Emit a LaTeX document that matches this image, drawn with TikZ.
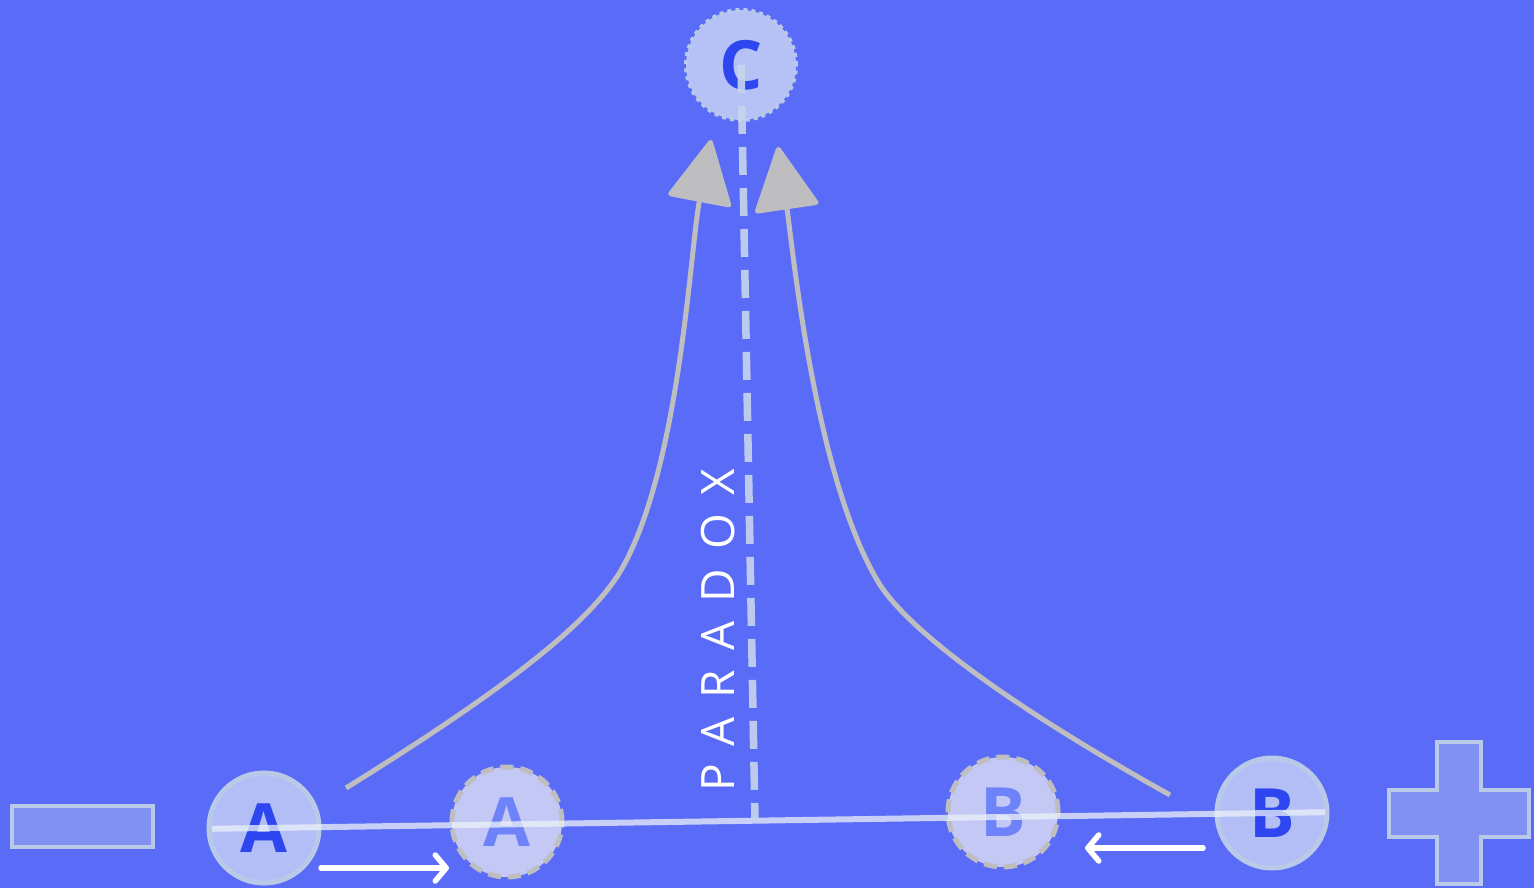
\documentclass[tikz,border=0pt]{standalone}
\usepackage{fontspec}
\setmainfont{Open Sans}
\usepackage{xcolor}
\usetikzlibrary{arrows.meta,positioning}

\definecolor{bgblue}{RGB}{90,108,247}
\definecolor{palefill}{RGB}{178,190,245}
\definecolor{ghostfill}{RGB}{196,200,245}
\definecolor{edgelight}{RGB}{185,202,232}
\definecolor{inkblue}{RGB}{45,70,240}
\definecolor{ghostink}{RGB}{110,130,250}
\definecolor{curvegray}{RGB}{190,190,192}
\definecolor{signfill}{RGB}{128,145,242}

\begin{document}
\begin{tikzpicture}[
    x=1pt, y=-1pt,
    realnode/.style={circle, draw=edgelight, fill=palefill, line width=5pt,
        minimum size=110pt, inner sep=0pt, text=inkblue,
        font=\fontsize{68}{68}\selectfont\bfseries\upshape},
    ghostnode/.style={realnode, fill=ghostfill, draw=curvegray, text=ghostink,
        dash pattern=on 13pt off 7pt},
    topnode/.style={realnode, fill=palefill!95!white, draw=edgelight,
        line width=4pt, dash pattern=on 4pt off 4pt},
    signbox/.style={draw=edgelight, fill=signfill, line width=3.5pt},
    axisline/.style={draw=white!75!edgelight, opacity=0.75, line width=6pt},
    bendline/.style={draw=curvegray, line width=5pt,
        -{Triangle[length=66pt, width=66pt, round]}},
    moveline/.style={draw=white, line width=5.5pt, line cap=round,
        -{Straight Barb[length=11pt, width=26pt, round]}}
]
% background and frame
\fill[bgblue] (0,0) rectangle (1534,888);
\useasboundingbox (0,0) rectangle (1534,888);

% minus and plus signs
\draw[signbox] (12,806) rectangle (153,847);
\draw[signbox] (1437,742) -- (1481,742) -- (1481,790) -- (1529,790) -- (1529,837)
    -- (1481,837) -- (1481,884) -- (1437,884) -- (1437,837) -- (1389,837)
    -- (1389,790) -- (1437,790) -- cycle;

% circles
\node[realnode]  (nodeA)  at (264,828) {A};
\node[ghostnode] (ghostA) at (507,822) {A};
\node[ghostnode] (ghostB) at (1003,812) {B};
\node[realnode]  (nodeB)  at (1272,813) {B};
\node[topnode]   (nodeC)  at (741,65) {C};

% base line and paradox link
\coordinate (meet) at (755,820);
\draw[axisline, shorten <=-52pt, shorten >=-53pt] (nodeA.center) -- (nodeB.center);
\draw[axisline, draw=edgelight!80!white, opacity=0.9, line width=7.5pt,
    dash pattern=on 28pt off 13pt] (nodeC.center) -- (meet);
\node[rotate=90, text=white, font=\fontsize{46}{46}\selectfont\addfontfeature{LetterSpace=42}]
    (paradox) at (718,630) {PARADOX};

% bending arrows towards C
\coordinate (leftfoot) at (346,788);
\coordinate (lefttip) at (711,140);
\coordinate (rightfoot) at (1170,795);
\coordinate (righttip) at (778,147);
\draw[bendline] (leftfoot) .. controls (520,680) and (590,620) .. (620,572)
    .. controls (680,470) and (690,250) .. (lefttip);
\draw[bendline] (rightfoot) .. controls (1000,700) and (910,630) .. (880,585)
    .. controls (815,480) and (793,250) .. (righttip);

% small movement arrows
\coordinate (moveAfrom) at (321,868);
\coordinate (moveAto) at (449,868);
\coordinate (moveBfrom) at (1203,848);
\coordinate (moveBto) at (1085,848);
\draw[moveline] (moveAfrom) -- (moveAto);
\draw[moveline] (moveBfrom) -- (moveBto);
\end{tikzpicture}
\end{document}
